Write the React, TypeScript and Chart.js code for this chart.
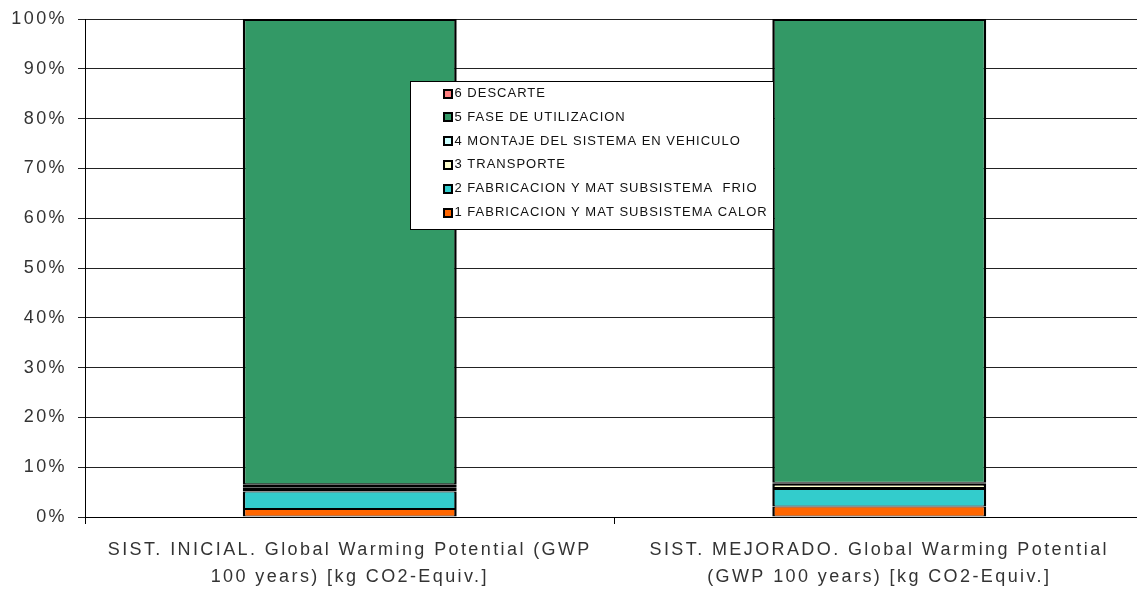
import React, { useEffect, useRef } from "react";
import { Chart, registerables } from "chart.js";

Chart.register(...registerables);

// Categories (two-line axis labels)
const categories: string[][] = [
  ["SIST. INICIAL. Global Warming Potential (GWP", "100 years) [kg CO2-Equiv.]"],
  ["SIST. MEJORADO. Global Warming Potential", "(GWP 100 years) [kg CO2-Equiv.]"],
];

// Series labels, bottom of the stack first
const seriesLabels = [
  "1 FABRICACION Y MAT SUBSISTEMA CALOR",
  "2 FABRICACION Y MAT SUBSISTEMA  FRIO",
  "3 TRANSPORTE",
  "4 MONTAJE DEL SISTEMA EN VEHICULO",
  "5 FASE DE UTILIZACION",
  "6 DESCARTE",
];

// Share of each stage (%), one value per category
const calor = [1.6, 2.1];
const frio = [3.5, 3.5];
const transporte = [0.75, 1.1];
const montaje = [0.72, 0.2];
const utilizacion = [93.43, 93.1];
const descarte = [0.0, 0.0];

const seriesValues = [calor, frio, transporte, montaje, utilizacion, descarte];
const seriesColors = ["#FF6600", "#33CCCC", "#FFFFCC", "#CCFFFF", "#339966", "#FF8080"];

// Border widths per series: thin stages get heavier top/bottom edges
const seriesEdge = [1, 1, 2, 2.5, 1, 1];

// Y axis ticks
const yTicks = [0, 10, 20, 30, 40, 50, 60, 70, 80, 90, 100];

const FONT = "'Liberation Sans', Arial, sans-serif";

// Wide, Excel-like tracking for the axis text
const spacingPlugin = {
  id: "letterSpacing",
  beforeLayout(chart: any) {
    chart.ctx.letterSpacing = "2.4px";
  },
  beforeDraw(chart: any) {
    chart.ctx.letterSpacing = "2.4px";
  },
};

// Boxed legend floating over the plot, top series listed first
const boxLegendPlugin = {
  id: "boxLegend",
  afterDraw(chart: any) {
    const ctx: CanvasRenderingContext2D = chart.ctx;
    const left = 410.5;
    const top = 81.5;
    const w = 363;
    const h = 148;
    ctx.save();
    ctx.letterSpacing = "1px";
    ctx.fillStyle = "#ffffff";
    ctx.fillRect(left, top, w, h);
    ctx.strokeStyle = "#000000";
    ctx.lineWidth = 1;
    ctx.strokeRect(left, top, w, h);
    const ds = chart.data.datasets;
    const n = ds.length;
    ctx.font = `13px ${FONT}`;
    ctx.textBaseline = "middle";
    ctx.textAlign = "left";
    for (let i = 0; i < n; i++) {
      const d = ds[n - 1 - i];
      const cy = 93 + i * 23.8;
      const bx = 443;
      const by = Math.round(cy - 4.5);
      ctx.fillStyle = "#000000";
      ctx.fillRect(bx, by, 10, 10);
      ctx.fillStyle = d.backgroundColor;
      ctx.fillRect(bx + 2, by + 2, 6, 6);
      ctx.fillStyle = "#111111";
      ctx.fillText(d.label, 454.5, cy + 0.5);
    }
    ctx.restore();
  },
};

export default function App() {
  const ref = useRef<HTMLCanvasElement | null>(null);

  useEffect(() => {
    if (!ref.current) return;
    const chart = new Chart(ref.current, {
      type: "bar",
      data: {
        labels: categories,
        datasets: seriesLabels.map((label, i) => ({
          label,
          data: seriesValues[i],
          backgroundColor: seriesColors[i],
          borderColor: "#000000",
          borderWidth: {
            left: 2.5,
            right: 2.5,
            top: i === 4 ? 2 : seriesEdge[i],
            bottom: seriesEdge[i],
          },
          borderSkipped: false,
          barPercentage: 1,
          categoryPercentage: 0.404,
        })),
      },
      options: {
        responsive: false,
        animation: false,
        layout: { padding: { top: 19, right: 6, bottom: 0, left: 0 } },
        plugins: {
          legend: { display: false },
          tooltip: { enabled: false },
        },
        scales: {
          x: {
            stacked: true,
            offset: true,
            border: { display: true, color: "#000000", width: 1 },
            grid: {
              display: true,
              offset: true,
              drawOnChartArea: false,
              drawTicks: true,
              tickLength: 7,
              color: "#000000",
            },
            ticks: {
              color: "#333333",
              padding: 12,
              maxRotation: 0,
              autoSkip: false,
              font: { family: FONT, size: 18, lineHeight: 1.52 },
            },
            afterFit(scale: any) {
              scale.height = 77;
            },
          },
          y: {
            stacked: true,
            min: 0,
            max: 100,
            afterBuildTicks(scale: any) {
              scale.ticks = yTicks.map((v) => ({ value: v }));
            },
            border: { display: true, color: "#000000", width: 1 },
            grid: {
              color: "#222222",
              lineWidth: 1,
              tickLength: 7,
              drawTicks: true,
            },
            ticks: {
              color: "#333333",
              padding: 11,
              font: { family: FONT, size: 18 },
              callback: (v: any) => `${v}%`,
            },
            afterFit(scale: any) {
              scale.width = 85;
              scale.paddingTop = 0;
              scale.paddingBottom = 0;
            },
          },
        },
      },
      plugins: [spacingPlugin, boxLegendPlugin],
    });
    return () => chart.destroy();
  }, []);

  return (
    <div
      style={{
        position: "fixed",
        left: 0,
        top: 0,
        width: 1137,
        height: 594,
        overflow: "hidden",
        background: "#ffffff",
      }}
    >
      <canvas ref={ref} width={1150} height={594} style={{ display: "block" }} />
    </div>
  );
}
